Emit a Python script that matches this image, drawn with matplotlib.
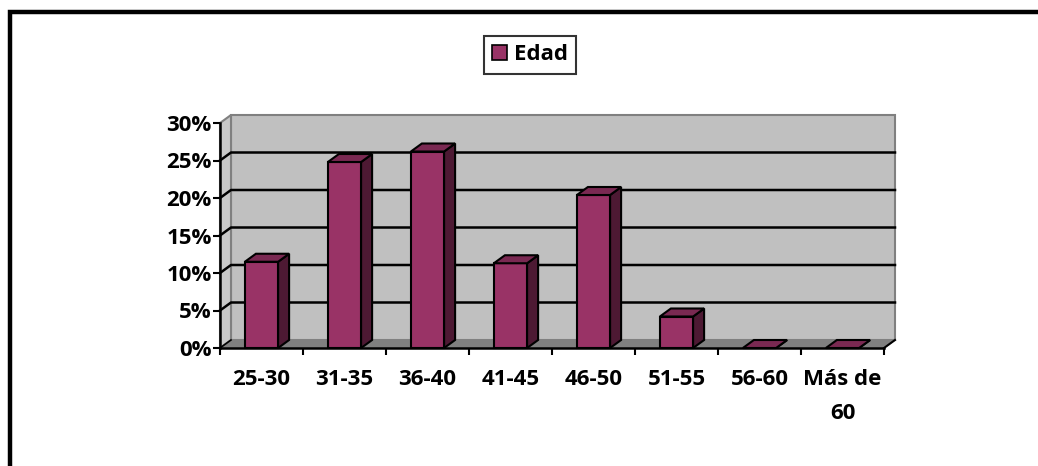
import matplotlib
matplotlib.use("Agg")
import matplotlib.pyplot as plt
from matplotlib.patches import Polygon, Rectangle
from matplotlib.lines import Line2D

# datos
categorias = ["25-30", "31-35", "36-40", "41-45", "46-50", "51-55", "56-60", "Más de\n60"]
valores = [11.5, 24.8, 26.2, 11.3, 20.4, 4.2, 0.0, 0.0]
yticks = [0, 5, 10, 15, 20, 25, 30]
serie = "Edad"

plt.rcParams['font.family'] = ['Open Sans', 'DejaVu Sans']
plt.rcParams['font.weight'] = 'bold'
FS = 16

W, H = 1038, 466
fig = plt.figure(figsize=(W / 100, H / 100), dpi=100)

# area frontal del grafico en pixeles
x0, x1, ytop, ybot = 220, 884, 123, 348
ax = fig.add_axes([x0 / W, (H - ybot) / H, (x1 - x0) / W, (ybot - ytop) / H])
ax.set_xlim(-0.5, len(categorias) - 0.5)
ax.set_ylim(0, 30)
ax.patch.set_visible(False)

# profundidad 3D en unidades de datos
dx = 11 / 83
dy = 8 / 7.5
xa, xb = -0.5, len(categorias) - 0.5

# pared del fondo
ax.add_patch(Rectangle((xa + dx, dy), xb - xa, 30, facecolor="#C0C0C0",
                       edgecolor="#808080", lw=1.5, clip_on=False, zorder=0))
# pared izquierda
ax.add_patch(Polygon([(xa, 0), (xa + dx, dy), (xa + dx, 30 + dy), (xa, 30)],
                     facecolor="#C8C8C8", edgecolor="#808080", lw=1.5, clip_on=False, zorder=0))
# piso
ax.add_patch(Polygon([(xa, 0), (xb, 0), (xb + dx, dy), (xa + dx, dy)],
                     facecolor="#808080", edgecolor="#808080", lw=1, clip_on=False, zorder=0.5))

# lineas de division
for v in yticks[1:-1]:
    ax.plot([xa, xa + dx, xb + dx], [v, v + dy, v + dy], color="black", lw=1.8,
            clip_on=False, zorder=1)
ax.plot([xa, xa + dx], [0, dy], color="black", lw=1.2, clip_on=False, zorder=1)
ax.plot([xb, xb + dx], [0, dy], color="black", lw=1.5, clip_on=False, zorder=4)

# barras
xs = list(range(len(categorias)))
ancho = 0.4
bars = ax.bar(xs, valores, width=ancho, color="#993366", edgecolor="black",
              lw=1.5, zorder=3, clip_on=False)
for x, v in zip(xs, valores):
    l, r = x - ancho / 2, x + ancho / 2
    # lado
    ax.add_patch(Polygon([(r, 0), (r + dx, dy), (r + dx, v + dy), (r, v)],
                         facecolor="#4D1933", edgecolor="black", lw=1.5, zorder=3, clip_on=False))
    # tapa
    ax.add_patch(Polygon([(l, v), (r, v), (r + dx, v + dy), (l + dx, v + dy)],
                         facecolor="#7A2952", edgecolor="black", lw=1.5, zorder=3, clip_on=False))

# ejes
for s in ["top", "right"]:
    ax.spines[s].set_visible(False)
for s in ["left", "bottom"]:
    ax.spines[s].set_color("black")
    ax.spines[s].set_linewidth(1.8)
    ax.spines[s].set_zorder(4)

ax.set_yticks(yticks)
ax.set_yticklabels([f"{v}%" for v in yticks], fontsize=FS, fontweight="bold")
ax.tick_params(axis="y", direction="out", length=5, width=1.5, pad=1)

ax.set_xticks(xs)
ax.set_xticklabels(categorias, fontsize=FS, fontweight="bold", linespacing=1.8)
ax.tick_params(axis="x", which="major", length=0, pad=15)
ax.set_xticks([i - 0.5 for i in range(len(categorias) + 1)], minor=True)
ax.tick_params(axis="x", which="minor", direction="out", length=5, width=1.5)

# leyenda
leg = fig.legend([Rectangle((0, 0), 1, 1, facecolor="#993366", edgecolor="black", lw=1.2)],
                 [serie], loc="center", bbox_to_anchor=(530 / W, (H - 55) / H),
                 frameon=True, fancybox=False, shadow=False, prop={"size": FS, "weight": "bold"},
                 handlelength=0.65, handleheight=0.65, handletextpad=0.3, borderpad=0.4,
                 borderaxespad=0)
leg.get_frame().set_edgecolor("black")
leg.get_frame().set_linewidth(1.5)

# marco de la figura (solo arriba e izquierda)
fig.add_artist(Line2D([10 / W, 10 / W, 1.0], [0.0, (H - 12) / H, (H - 12) / H],
                      transform=fig.transFigure, color="black", lw=3.2,
                      solid_joinstyle="miter"))

fig.savefig("out.png", dpi=100)
